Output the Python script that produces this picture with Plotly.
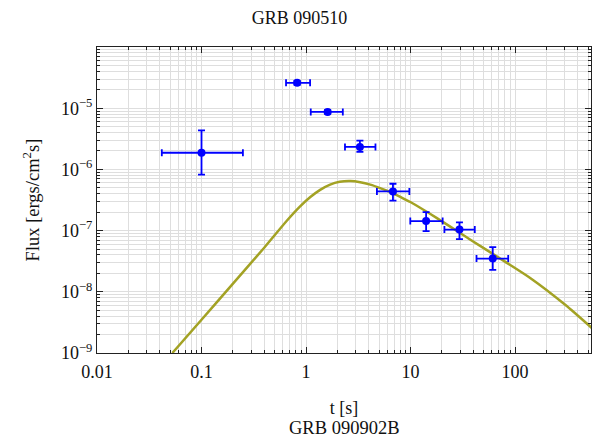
import plotly.graph_objects as go

# Measured light-curve points: time [s] and flux [erg/cm^2/s] with bounds
t_mid = [0.1, 0.822, 1.61, 3.28, 6.79, 14.1, 29.4, 61.2]
t_lo = [0.0417, 0.644, 1.11, 2.36, 4.77, 9.95, 21.1, 42.8]
t_hi = [0.249, 1.094, 2.25, 4.62, 9.75, 20.3, 41.2, 86.1]
flux = [1.87e-6, 2.6e-5, 8.7e-6, 2.33e-6, 4.36e-7, 1.43e-7, 1.04e-7, 3.49e-8]
flux_lo = [8.2e-7, 2.41e-5, 8.1e-6, 1.93e-6, 3.08e-7, 9.8e-8, 7.26e-8, 2.28e-8]
flux_hi = [4.35e-6, 2.8e-5, 9.4e-6, 2.95e-6, 5.83e-7, 2.01e-7, 1.36e-7, 5.37e-8]

# Model light curve
model_t = [0.0526, 0.1, 0.2, 0.4, 0.655, 0.878, 1.1, 1.365, 1.7, 2.1, 2.65,
           3.3, 4.12, 5.2, 6.4, 8.0, 9.96, 17.9, 37.4, 78.1, 140.7, 300, 570]
model_flux = [1.0e-9, 3.5e-9, 1.36e-8, 5.3e-8, 1.45e-7, 2.49e-7, 3.53e-7,
              4.62e-7, 5.64e-7, 6.26e-7, 6.44e-7, 6.17e-7, 5.64e-7, 4.91e-7,
              4.27e-7, 3.55e-7, 2.93e-7, 1.6e-7, 7.1e-8, 3.2e-8, 1.67e-8,
              6.2e-9, 2.38e-9]

x_ticks = [0.01, 0.1, 1, 10, 100]
x_tick_text = ["0.01", "0.1", "1", "10", "100"]
y_ticks = [1e-9, 1e-8, 1e-7, 1e-6, 1e-5]
y_tick_text = ["10<sup>\u22129</sup>", "10<sup>\u22128</sup>", "10<sup>\u22127</sup>",
               "10<sup>\u22126</sup>", "10<sup>\u22125</sup>"]

FONT = "Liberation Serif, Times New Roman, serif"
GRID = "#dedede"
BLUE = "#0000ff"
INK = "#111"

fig = go.Figure()

fig.add_trace(go.Scatter(
    x=model_t, y=model_flux, mode="lines",
    line=dict(color="#a3a224", width=2.5, shape="spline", smoothing=0.7),
    showlegend=False, hoverinfo="skip",
))

fig.add_trace(go.Scatter(
    x=t_mid, y=flux, mode="markers",
    marker=dict(color=BLUE, size=8, symbol="circle"),
    error_x=dict(type="data", symmetric=False,
                 array=[h - m for h, m in zip(t_hi, t_mid)],
                 arrayminus=[m - l for m, l in zip(t_mid, t_lo)],
                 color=BLUE, thickness=1.8, width=3.5),
    error_y=dict(type="data", symmetric=False,
                 array=[h - m for h, m in zip(flux_hi, flux)],
                 arrayminus=[m - l for m, l in zip(flux, flux_lo)],
                 color=BLUE, thickness=1.8, width=3.5),
    showlegend=False,
))

axis_common = dict(
    type="log",
    showline=True, linecolor="#222", linewidth=1, mirror="ticks",
    ticks="inside", ticklen=6, tickcolor="#222", tickwidth=1,
    showgrid=True, gridcolor=GRID, gridwidth=1,
    zeroline=False,
    minor=dict(ticks="inside", ticklen=3, tickcolor="#222", dtick="D1",
               showgrid=True, gridcolor=GRID, gridwidth=1),
    tickfont=dict(family=FONT, size=18, color=INK),
)

fig.update_xaxes(
    **axis_common,
    range=[-2, 2.727],
    tickmode="array", tickvals=x_ticks, ticktext=x_tick_text,
    ticklabelstandoff=2,
    title=dict(text="t [s]", font=dict(family=FONT, size=18, color=INK), standoff=20),
)
fig.update_yaxes(
    **axis_common,
    range=[-9, -4],
    tickmode="array", tickvals=y_ticks, ticktext=y_tick_text,
    title=dict(text="Flux [ergs/cm<sup>2</sup>s]", font=dict(family=FONT, size=18.5, color=INK),
               standoff=16),
)

fig.add_annotation(
    text="GRB 090902B", xref="paper", yref="paper", x=0.5, y=-0.245,
    xanchor="center", yanchor="middle", showarrow=False,
    font=dict(family=FONT, size=18.5, color=INK),
)

fig.update_layout(
    width=599, height=437,
    margin=dict(l=97, r=8, t=47, b=84, autoexpand=False),
    paper_bgcolor="white", plot_bgcolor="white",
    title=dict(text="GRB 090510", x=0.5, xanchor="center", y=1 - 18 / 437, yanchor="middle",
               font=dict(family=FONT, size=18, color=INK)),
)

fig.write_html("out.html")
